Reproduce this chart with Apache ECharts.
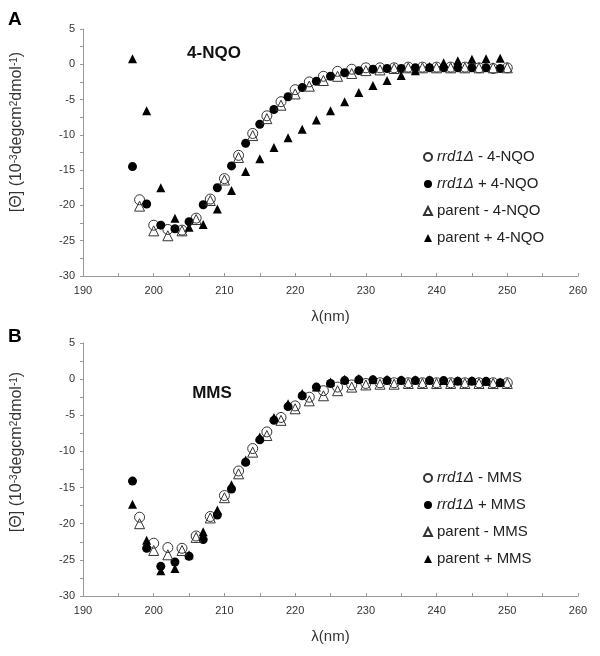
<!DOCTYPE html>
<html>
<head>
<meta charset="utf-8">
<script src="https://cdn.jsdelivr.net/npm/echarts@6/dist/echarts.min.js"></script>
<style>
  html, body { margin: 0; padding: 0; background: #fff; }
  #chart { width: 600px; height: 656px; }
</style>
</head>
<body>
<div id="chart"></div>
<script>
// wavelengths (nm)
var waveEven = [198, 200, 202, 204, 206, 208, 210, 212, 214, 216, 218, 220, 222, 224, 226, 228, 230, 232, 234, 236, 238, 240, 242, 244, 246, 248, 250];
var waveOdd = [197, 199, 201, 203, 205, 207, 209, 211, 213, 215, 217, 219, 221, 223, 225, 227, 229, 231, 233, 235, 237, 239, 241, 243, 245, 247, 249];

// panel A, 4-NQO
var nqoRrdMinus = [-19.2, -22.8, -23.4, -23.5, -21.8, -19.1, -16.2, -12.9, -9.8, -7.3, -5.3, -3.6, -2.5, -1.7, -1.0, -0.7, -0.5, -0.5, -0.5, -0.4, -0.4, -0.4, -0.4, -0.4, -0.5, -0.6, -0.5];
var nqoRrdPlus = [-14.5, -19.8, -22.8, -23.3, -22.3, -19.9, -17.5, -14.4, -11.2, -8.5, -6.4, -4.6, -3.3, -2.4, -1.7, -1.2, -0.9, -0.7, -0.6, -0.6, -0.5, -0.5, -0.5, -0.5, -0.5, -0.5, -0.6];
var nqoParentMinus = [-20.1, -23.6, -24.3, -23.6, -22.0, -19.3, -16.4, -13.2, -10.1, -7.7, -5.8, -4.2, -3.1, -2.3, -1.7, -1.3, -0.9, -0.8, -0.6, -0.5, -0.5, -0.5, -0.5, -0.5, -0.5, -0.5, -0.5];
var nqoParentPlus = [0.8, -6.6, -17.5, -21.8, -23.1, -22.7, -20.5, -17.9, -15.2, -13.4, -11.8, -10.4, -9.2, -7.9, -6.6, -5.3, -4.0, -3.0, -2.3, -1.6, -0.9, -0.3, 0.2, 0.5, 0.7, 0.8, 0.85];

// panel B, MMS
var mmsRrdMinus = [-19.1, -22.7, -23.3, -23.4, -21.7, -19.0, -16.1, -12.7, -9.6, -7.3, -5.3, -3.7, -2.5, -1.6, -1.1, -0.8, -0.6, -0.5, -0.5, -0.5, -0.5, -0.5, -0.5, -0.5, -0.5, -0.5, -0.5];
var mmsRrdPlus = [-14.1, -23.4, -25.9, -25.3, -24.5, -22.2, -18.8, -15.2, -11.5, -8.4, -5.7, -3.8, -2.3, -1.1, -0.6, -0.2, -0.1, -0.1, -0.2, -0.2, -0.2, -0.2, -0.2, -0.3, -0.3, -0.3, -0.5];
var mmsParentMinus = [-20.0, -23.7, -24.3, -23.7, -21.9, -19.2, -16.4, -13.1, -10.1, -7.8, -5.7, -4.1, -3.0, -2.3, -1.6, -1.1, -0.8, -0.7, -0.7, -0.6, -0.6, -0.6, -0.6, -0.6, -0.6, -0.6, -0.6];
var mmsParentPlus = [-17.3, -22.3, -26.5, -26.2, -24.3, -21.1, -18.1, -14.6, -11.2, -8.0, -5.3, -3.4, -2.0, -1.1, -0.4, 0.0, 0.1, 0.0, 0.0, -0.1, -0.1, -0.1, -0.2, -0.2, -0.2, -0.3, -0.4];

var FONT = '"Liberation Sans", Arial, sans-serif';

function pairs(xs, ys) {
  return xs.map(function (x, i) { return [x, ys[i]]; });
}

function xAxisOf(idx) {
  return {
    gridIndex: idx, type: 'value', min: 190, max: 260, interval: 10,
    name: 'λ(nm)', nameLocation: 'middle', nameGap: 33,
    nameTextStyle: { fontFamily: FONT, fontSize: 15, color: '#333' },
    axisLine: { onZero: false, lineStyle: { color: '#999' } },
    axisTick: { inside: true, length: 3, lineStyle: { color: '#999' } },
    minorTick: { show: true, splitNumber: 2, length: 3, lineStyle: { color: '#999' } },
    splitLine: { show: false },
    axisLabel: { fontFamily: FONT, fontSize: 11, color: '#333', margin: 9 }
  };
}

function yAxisOf(idx) {
  return {
    gridIndex: idx, type: 'value', min: -30, max: 5, interval: 5,
    axisLine: { show: true, onZero: false, lineStyle: { color: '#999' } },
    axisTick: { show: true, length: 3, lineStyle: { color: '#999' } },
    minorTick: { show: true, splitNumber: 2, length: 3, lineStyle: { color: '#999' } },
    splitLine: { show: false },
    axisLabel: { fontFamily: FONT, fontSize: 11, color: '#333', margin: 8 }
  };
}

function openSeries(name, symbol, xs, ys, idx, size) {
  return {
    name: name, type: 'scatter', xAxisIndex: idx, yAxisIndex: idx,
    symbol: symbol, symbolSize: size, data: pairs(xs, ys),
    itemStyle: { color: 'rgba(255,255,255,0)', borderColor: '#333', borderWidth: 1, opacity: 1 }
  };
}

function filledSeries(name, symbol, xs, ys, idx, size) {
  return {
    name: name, type: 'scatter', xAxisIndex: idx, yAxisIndex: idx,
    symbol: symbol, symbolSize: size, data: pairs(xs, ys),
    itemStyle: { color: '#000', opacity: 1 }
  };
}

function legendOf(names, top) {
  return {
    orient: 'vertical', left: 418, top: top, itemGap: 9,
    itemWidth: 8, itemHeight: 8, data: names, selectedMode: false,
    formatter: function (n) { return n.replace('rrd1Δ', '{i|rrd1Δ}'); },
    textStyle: {
      fontFamily: FONT, fontSize: 15, color: '#222', lineHeight: 18,
      rich: { i: { fontStyle: 'italic', fontFamily: FONT, fontSize: 15, color: '#222' } }
    }
  };
}

var namesA = ['rrd1Δ - 4-NQO', 'rrd1Δ + 4-NQO', 'parent - 4-NQO', 'parent + 4-NQO'];
var namesB = ['rrd1Δ - MMS', 'rrd1Δ + MMS', 'parent - MMS', 'parent + MMS'];

var yName = '[Θ] (10{s|-3}degcm{s|2}dmol{s|-1})';
var yRich = { s: { fontSize: 10, fontFamily: FONT, color: '#333', verticalAlign: 'top', lineHeight: 14 } };

var chart = echarts.init(document.getElementById('chart'));
chart.setOption({
  animation: false,
  grid: [
    { left: 83, top: 29, width: 495, height: 247 },
    { left: 83, top: 343, width: 495, height: 253 }
  ],
  xAxis: [xAxisOf(0), xAxisOf(1)],
  yAxis: [yAxisOf(0), yAxisOf(1)],
  legend: [legendOf(namesA, 143), legendOf(namesB, 464)],
  series: [
    openSeries(namesA[0], 'circle', waveEven, nqoRrdMinus, 0, 10),
    filledSeries(namesA[1], 'circle', waveOdd, nqoRrdPlus, 0, 9),
    openSeries(namesA[2], 'triangle', waveEven, nqoParentMinus, 0, 10),
    filledSeries(namesA[3], 'triangle', waveOdd, nqoParentPlus, 0, 9),
    openSeries(namesB[0], 'circle', waveEven, mmsRrdMinus, 1, 10),
    filledSeries(namesB[1], 'circle', waveOdd, mmsRrdPlus, 1, 9),
    openSeries(namesB[2], 'triangle', waveEven, mmsParentMinus, 1, 10),
    filledSeries(namesB[3], 'triangle', waveOdd, mmsParentPlus, 1, 9)
  ],
  graphic: [
    { type: 'text', left: 8, top: 10, style: { text: 'A', font: 'bold 19px ' + FONT, fill: '#000' } },
    { type: 'text', left: 8, top: 327, style: { text: 'B', font: 'bold 19px ' + FONT, fill: '#000' } },
    { type: 'text', x: 214, y: 53, style: { text: '4-NQO', font: 'bold 17px ' + FONT, fill: '#111', align: 'center', verticalAlign: 'middle' } },
    { type: 'text', x: 212, y: 393, style: { text: 'MMS', font: 'bold 17px ' + FONT, fill: '#111', align: 'center', verticalAlign: 'middle' } },
    { type: 'text', x: 17, y: 132, rotation: Math.PI / 2,
      style: { text: yName, rich: yRich, fontFamily: FONT, fontSize: 16, fill: '#333', align: 'center', verticalAlign: 'middle' } },
    { type: 'text', x: 17, y: 452, rotation: Math.PI / 2,
      style: { text: yName, rich: yRich, fontFamily: FONT, fontSize: 16, fill: '#333', align: 'center', verticalAlign: 'middle' } }
  ]
});
</script>
</body>
</html>
